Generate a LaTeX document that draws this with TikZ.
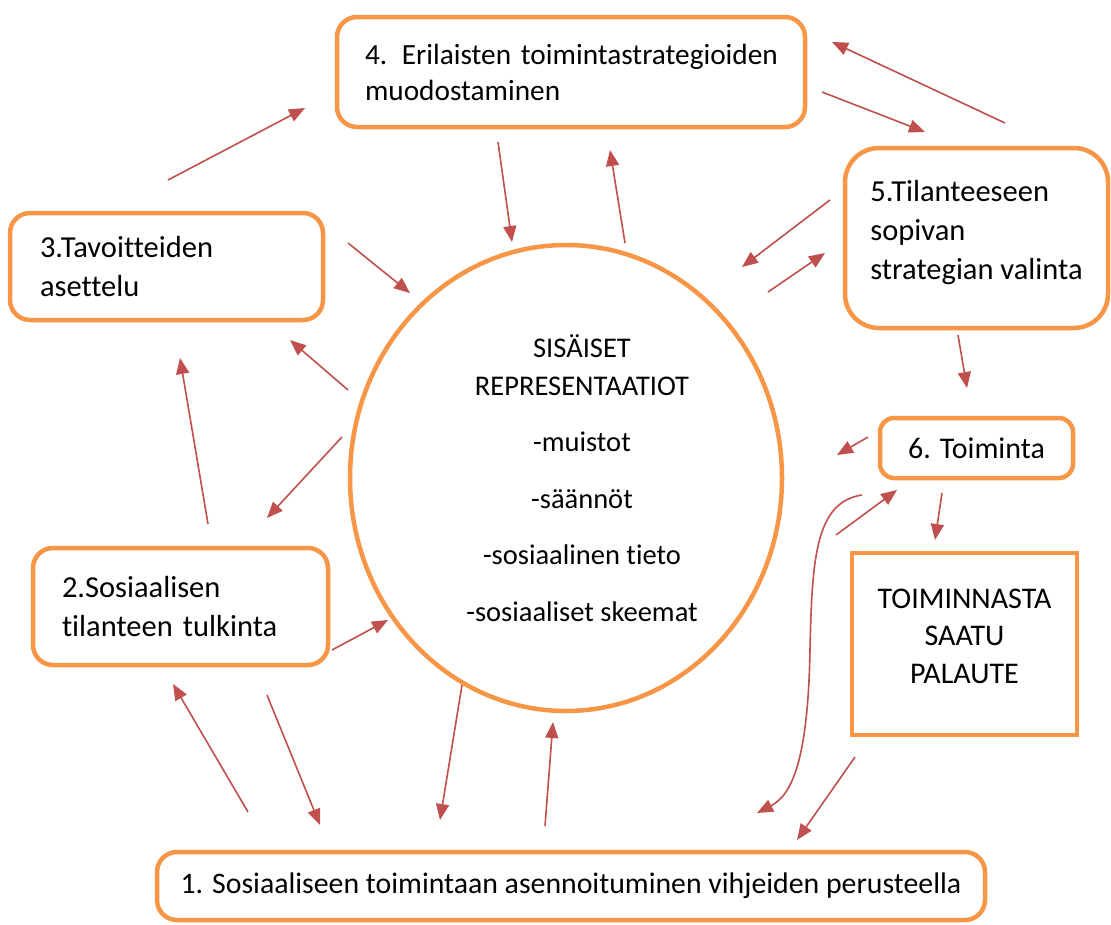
\documentclass[tikz,border=0pt]{standalone}
\usepackage{fontspec}
\setmainfont{Carlito}[Ligatures={NoCommon}]
\usetikzlibrary{arrows.meta,shapes.geometric}
\definecolor{orng}{HTML}{F79646}
\definecolor{arred}{HTML}{C0504D}
\begin{document}
\begin{tikzpicture}[x=1pt,y=-1pt,
  every node/.style={font=\fontsize{28.5}{37.5}\selectfont, text=black},
  big/.style={font=\fontsize{30.5}{38.5}\selectfont},
  box/.style={draw=orng, line width=4.5pt, rounded corners=20pt, fill=white},
  arr/.style={draw=arred, line width=1.6pt, -{Triangle[length=16pt,width=13pt]}}]
\useasboundingbox (0,0) rectangle (1111,924);
\fill[white] (0,0) rectangle (1111,924);

% central circle
\node[draw=orng, line width=4.5pt, ellipse, minimum width=432pt, minimum height=466pt, inner sep=0pt] (core) at (566,478) {};
\node[align=center] (coretext) at (582,478) {SISÄISET\\REPRESENTAATIOT\\[19pt]-muistot\\[19pt]-säännöt\\[19pt]-sosiaalinen tieto\\[19pt]-sosiaaliset skeemat};

% boxes
\node[box, align=left, text width=412pt, inner xsep=28pt, minimum height=110pt, font=\fontsize{29.3}{36}\selectfont] (b4) at (571,72) {\makebox[410pt][s]{4. Erilaisten toimintastrategioiden}\\muodostaminen};
\node[box, big, rounded corners=34pt, align=left, minimum width=263pt, minimum height=180pt, font=\fontsize{30.5}{39}\selectfont] (b5) at (976.5,238) {5.Tilanteeseen\\sopivan\\strategian valinta\\[-23pt]};
\node[box, big, align=left, text width=253pt, inner xsep=30pt, minimum height=107pt] (b3) at (166.5,266.5) {3.Tavoitteiden\\asettelu};
\node[box, big, align=left, text width=237pt, inner xsep=29pt, minimum height=117pt] (b2) at (180.5,606.5) {2.Sosiaalisen\\tilanteen tulkinta};
\node[box, rounded corners=14pt, minimum width=193pt, minimum height=60pt, font=\fontsize{30}{37}\selectfont] (b6) at (976.5,448) {6. Toiminta};
\node[draw=orng, line width=4.5pt, fill=white, align=center, minimum width=225pt, minimum height=182pt, font=\fontsize{30}{37.5}\selectfont] (fb) at (964.5,644) {TOIMINNASTA\\SAATU\\PALAUTE\\[-22pt]};
\node[box, minimum width=828pt, minimum height=68pt, font=\fontsize{29.8}{36}\selectfont] (b1) at (571,886) {1. Sosiaaliseen toimintaan asennoituminen vihjeiden perusteella};

% arrow endpoints
\coordinate (a1s) at (168,180);  \coordinate (a1e) at (305,108);
\coordinate (a2s) at (498,142);  \coordinate (a2e) at (512,242);
\coordinate (a3s) at (625,243);  \coordinate (a3e) at (610,150);
\coordinate (a4s) at (822,92);   \coordinate (a4e) at (925,132);
\coordinate (a5s) at (1005,123); \coordinate (a5e) at (832,42);
\coordinate (a6s) at (830,200);  \coordinate (a6e) at (742,267);
\coordinate (a7s) at (768,292);  \coordinate (a7e) at (825,253);
\coordinate (a8s) at (958,335);  \coordinate (a8e) at (967,388);
\coordinate (a9s) at (868,437);  \coordinate (a9e) at (837,455);
\coordinate (a10s) at (836,535); \coordinate (a10e) at (897,490);
\coordinate (a11s) at (862,495); \coordinate (a11m) at (810,650); \coordinate (a11e) at (757,813);
\coordinate (a12s) at (942,493); \coordinate (a12e) at (935,540);
\coordinate (a13s) at (855,757); \coordinate (a13e) at (797,840);
\coordinate (a14s) at (348,243); \coordinate (a14e) at (410,293);
\coordinate (a15s) at (348,390); \coordinate (a15e) at (290,340);
\coordinate (a16s) at (342,437); \coordinate (a16e) at (267,518);
\coordinate (a17s) at (208,524); \coordinate (a17e) at (180,358);
\coordinate (a18s) at (332,650); \coordinate (a18e) at (388,620);
\coordinate (a19s) at (248,812); \coordinate (a19e) at (173,684);
\coordinate (a20s) at (267,695); \coordinate (a20e) at (320,825);
\coordinate (a21s) at (462,685); \coordinate (a21e) at (440,820);
\coordinate (a22s) at (545,826); \coordinate (a22e) at (553,722);

\foreach \i in {1,...,10,12,13,14,15,16,17,18,19,20,21,22}
  \draw[arr] (a\i s) -- (a\i e);
\draw[arr] (a11s) .. controls (815,502) and (812,560) .. (a11m) .. controls (808,760) and (792,795) .. (a11e);
\end{tikzpicture}
\end{document}
